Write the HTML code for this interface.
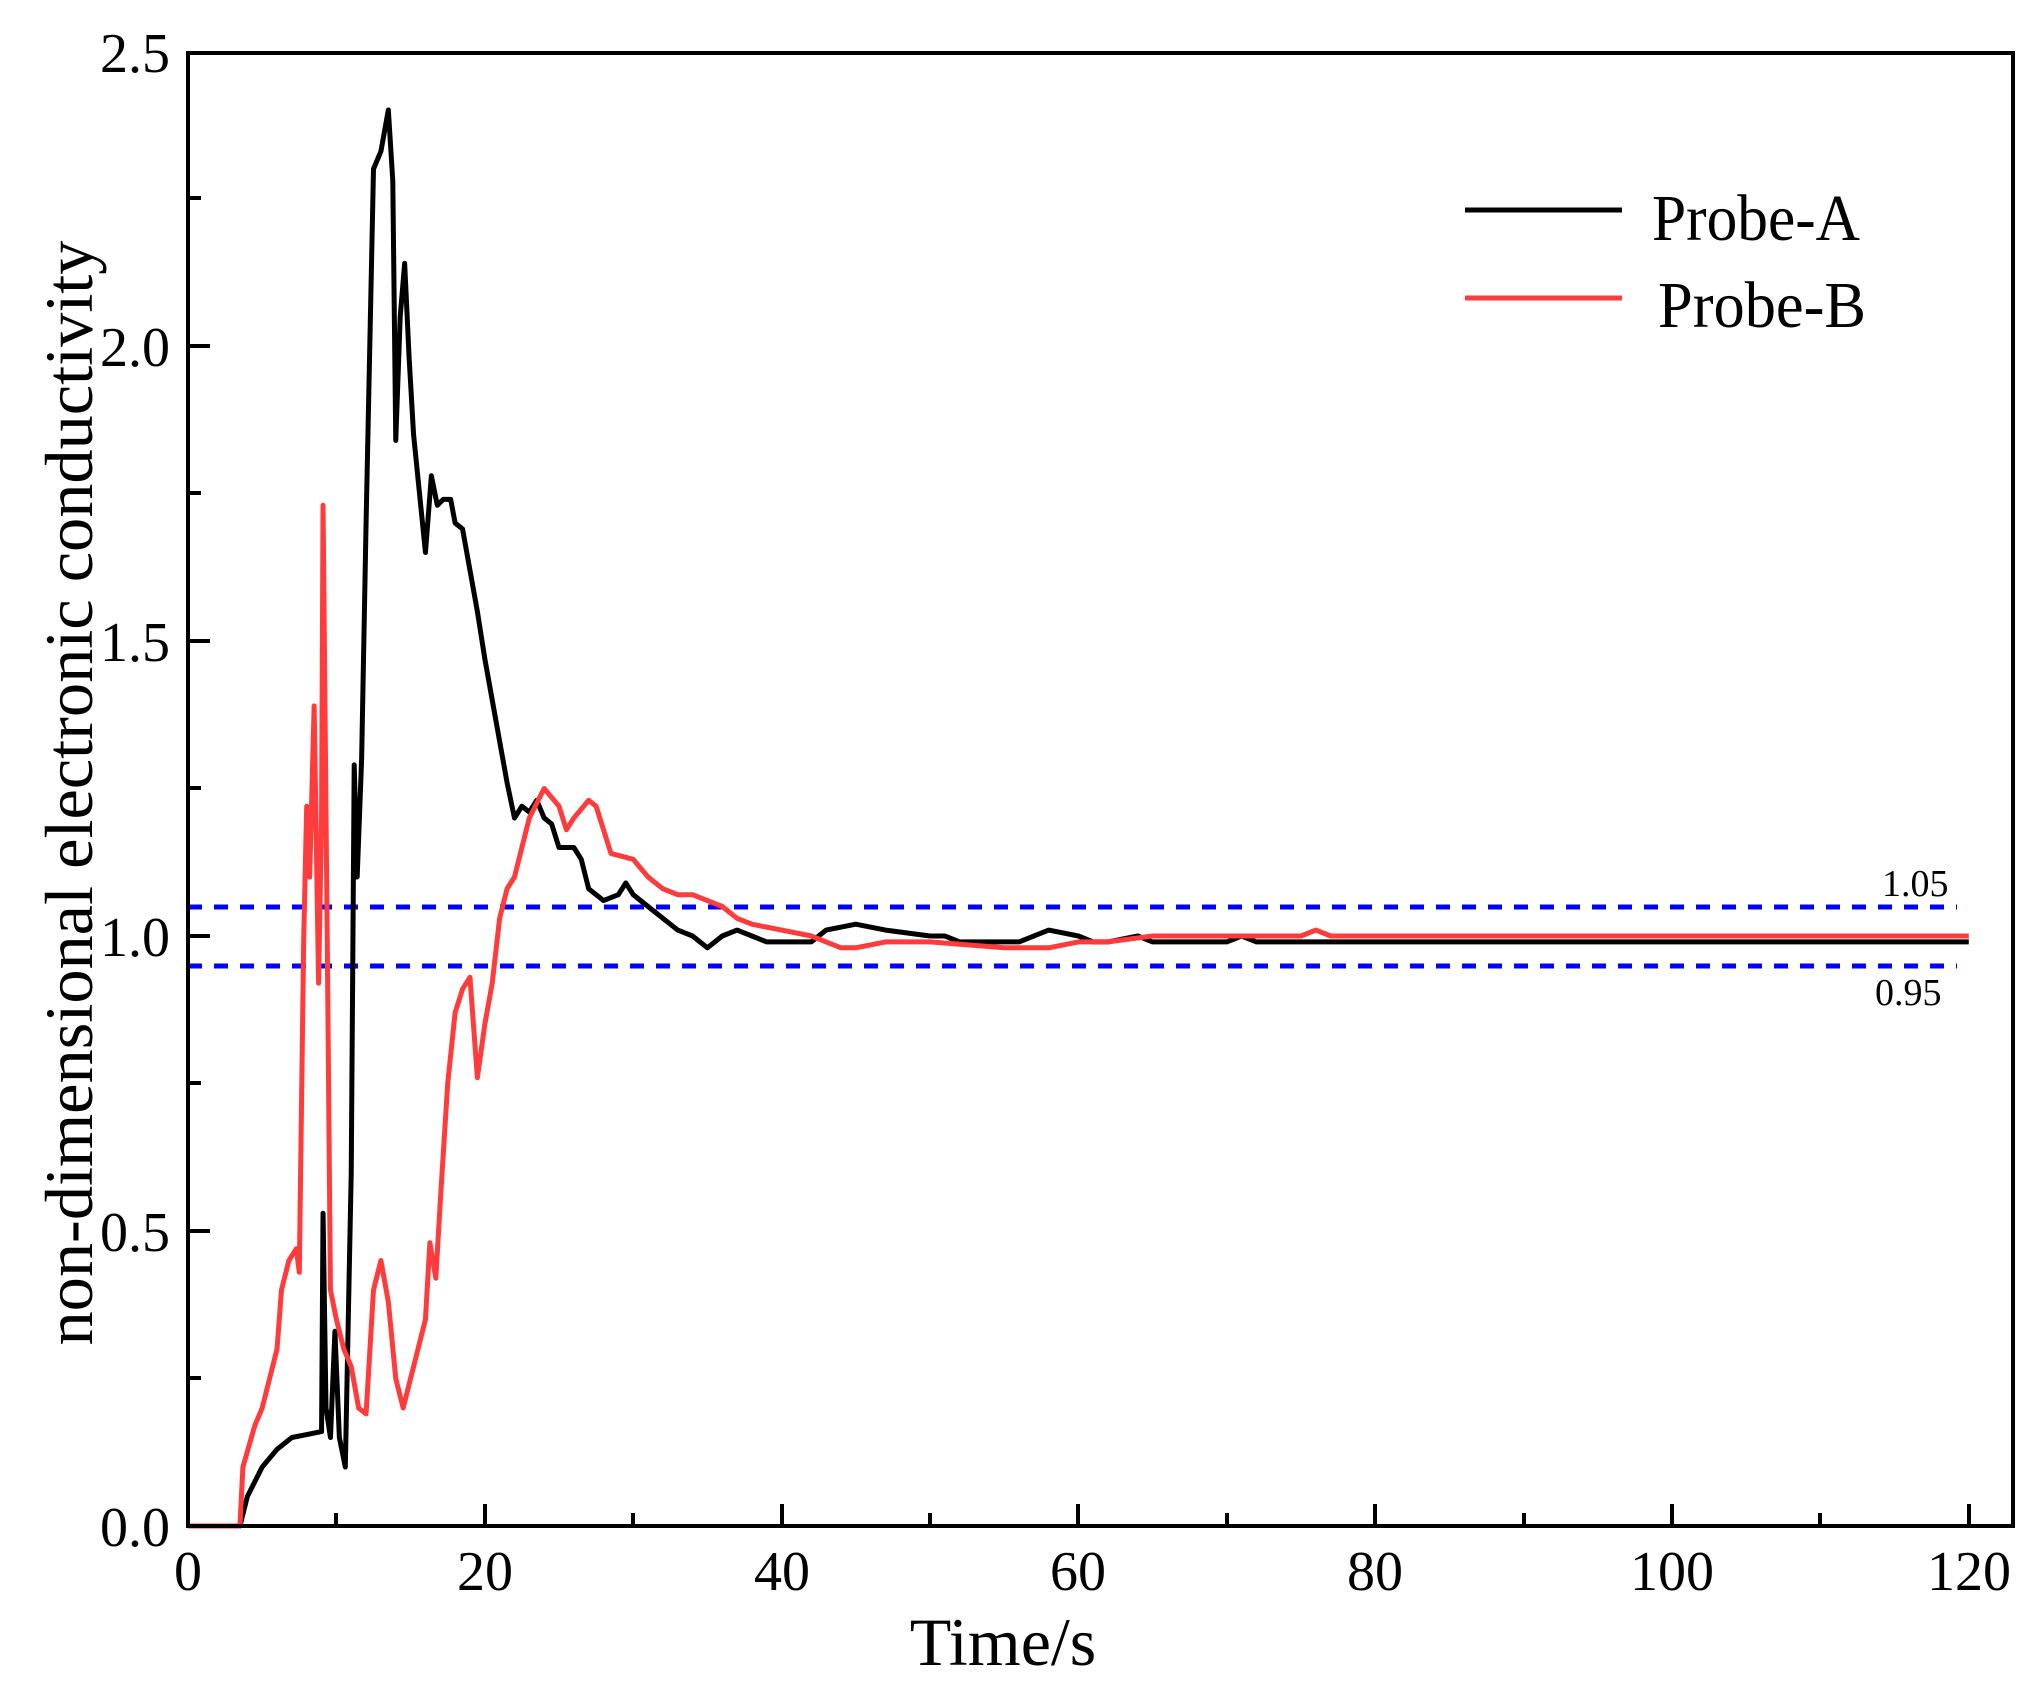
<!DOCTYPE html>
<html><head><meta charset="utf-8"><style>
html,body{margin:0;padding:0;background:#fff;}
svg{display:block;}
text{font-family:"Liberation Serif",serif;fill:#000;}
</style></head><body>
<svg width="2034" height="1693" viewBox="0 0 2034 1693" xmlns="http://www.w3.org/2000/svg">
<rect width="2034" height="1693" fill="#fff"/>
<line x1="188" y1="907" x2="1957" y2="907" stroke="#0000ff" stroke-width="5" stroke-dasharray="14 12"/>
<line x1="188" y1="966" x2="1957" y2="966" stroke="#0000ff" stroke-width="5" stroke-dasharray="14 12"/>
<g transform="translate(188,1526) scale(14.84,-590)" fill="none" stroke-linejoin="round">
<polyline vector-effect="non-scaling-stroke" stroke="#000" stroke-width="5" points="0,0 3.5,0 4,0.05 5,0.1 6,0.13 7,0.15 8,0.155 9,0.16 9.1,0.53 9.3,0.2 9.6,0.15 9.9,0.33 10.2,0.15 10.6,0.1 11,0.6 11.2,1.29 11.4,1.1 11.7,1.3 12,1.7 12.5,2.3 13,2.33 13.5,2.4 13.8,2.28 14,1.84 14.3,2.05 14.6,2.14 14.9,1.98 15.2,1.85 15.6,1.75 16,1.65 16.4,1.78 16.8,1.73 17.2,1.74 17.7,1.74 18,1.7 18.5,1.69 19,1.62 19.5,1.55 20,1.47 20.5,1.4 21,1.33 21.5,1.26 22,1.2 22.5,1.22 23,1.21 23.5,1.23 24,1.2 24.5,1.19 25,1.15 26,1.15 26.5,1.13 27,1.08 28,1.06 29,1.07 29.5,1.09 30,1.07 31,1.05 32,1.03 33,1.01 34,1.0 35,0.98 36,1.0 37,1.01 38,1.0 39,0.99 40,0.99 42,0.99 43,1.01 45,1.02 47,1.01 50,1.0 51,1.0 52,0.99 55,0.99 56,0.99 58,1.01 60,1.0 61,0.99 62,0.99 64,1.0 65,0.99 70,0.99 71,1.0 72,0.99 120,0.99"/>
<polyline vector-effect="non-scaling-stroke" stroke="#ff3b3b" stroke-width="5" points="0,0 3.5,0 3.7,0.1 4.5,0.17 5,0.2 5.5,0.25 6,0.3 6.3,0.4 6.8,0.45 7.3,0.47 7.5,0.43 7.8,1.0 8,1.22 8.2,1.1 8.5,1.39 8.8,0.92 9,1.2 9.1,1.73 9.4,0.95 9.6,0.4 10,0.35 10.5,0.3 11,0.27 11.5,0.2 12,0.19 12.5,0.4 13,0.45 13.5,0.38 14,0.25 14.5,0.2 15,0.25 15.5,0.3 16,0.35 16.3,0.48 16.7,0.42 17,0.55 17.5,0.75 18,0.87 18.5,0.91 19,0.93 19.5,0.76 20,0.85 20.5,0.92 21,1.03 21.5,1.08 22,1.1 22.5,1.15 23,1.2 24,1.25 25,1.22 25.5,1.18 26,1.2 27,1.23 27.5,1.22 28,1.18 28.5,1.14 30,1.13 31,1.1 32,1.08 33,1.07 34,1.07 35,1.06 36,1.05 37,1.03 38,1.02 40,1.01 42,1.0 43,0.99 44,0.98 45,0.98 47,0.99 50,0.99 55,0.98 58,0.98 60,0.99 62,0.99 65,1.0 75,1.0 76,1.01 77,1.0 120,1.0"/>
</g>
<rect x="188" y="53" width="1825" height="1473" fill="none" stroke="#000" stroke-width="4"/>
<g stroke="#000" stroke-width="4">
<line x1="188" y1="1526" x2="210" y2="1526"/><line x1="188" y1="1231" x2="210" y2="1231"/>
<line x1="188" y1="936" x2="210" y2="936"/><line x1="188" y1="641" x2="210" y2="641"/>
<line x1="188" y1="346" x2="210" y2="346"/><line x1="188" y1="1378" x2="201" y2="1378"/>
<line x1="188" y1="1083" x2="201" y2="1083"/><line x1="188" y1="788" x2="201" y2="788"/>
<line x1="188" y1="493" x2="201" y2="493"/><line x1="188" y1="198" x2="201" y2="198"/>
<line x1="485" y1="1526" x2="485" y2="1504"/><line x1="782" y1="1526" x2="782" y2="1504"/>
<line x1="1078" y1="1526" x2="1078" y2="1504"/><line x1="1375" y1="1526" x2="1375" y2="1504"/>
<line x1="1672" y1="1526" x2="1672" y2="1504"/><line x1="1969" y1="1526" x2="1969" y2="1504"/>
<line x1="336" y1="1526" x2="336" y2="1513"/><line x1="633" y1="1526" x2="633" y2="1513"/>
<line x1="930" y1="1526" x2="930" y2="1513"/><line x1="1227" y1="1526" x2="1227" y2="1513"/>
<line x1="1524" y1="1526" x2="1524" y2="1513"/><line x1="1820" y1="1526" x2="1820" y2="1513"/>
</g>
<g font-size="56" text-anchor="end">
<text x="170" y="1546">0.0</text><text x="170" y="1251">0.5</text><text x="170" y="956">1.0</text>
<text x="170" y="661">1.5</text><text x="170" y="366">2.0</text><text x="170" y="72">2.5</text>
</g>
<g font-size="56" text-anchor="middle">
<text x="188" y="1590">0</text><text x="485" y="1590">20</text><text x="782" y="1590">40</text>
<text x="1078" y="1590">60</text><text x="1375" y="1590">80</text><text x="1672" y="1590">100</text>
<text x="1969" y="1590">120</text>
</g>
<text x="1003" y="1665" font-size="68" text-anchor="middle">Time/s</text>
<text transform="translate(92,793) rotate(-90)" font-size="68" text-anchor="middle" textLength="1105" lengthAdjust="spacingAndGlyphs">non-dimensional electronic conductivity</text>
<line x1="1465" y1="210" x2="1622" y2="210" stroke="#000" stroke-width="5"/>
<line x1="1465" y1="298" x2="1622" y2="298" stroke="#ff3b3b" stroke-width="5"/>
<text x="1652" y="240" font-size="66" textLength="208" lengthAdjust="spacingAndGlyphs">Probe-A</text>
<text x="1658" y="327" font-size="66" textLength="208" lengthAdjust="spacingAndGlyphs">Probe-B</text>
<text x="1882" y="896" font-size="38">1.05</text>
<text x="1875" y="1005" font-size="38">0.95</text>
</svg>
</body></html>
